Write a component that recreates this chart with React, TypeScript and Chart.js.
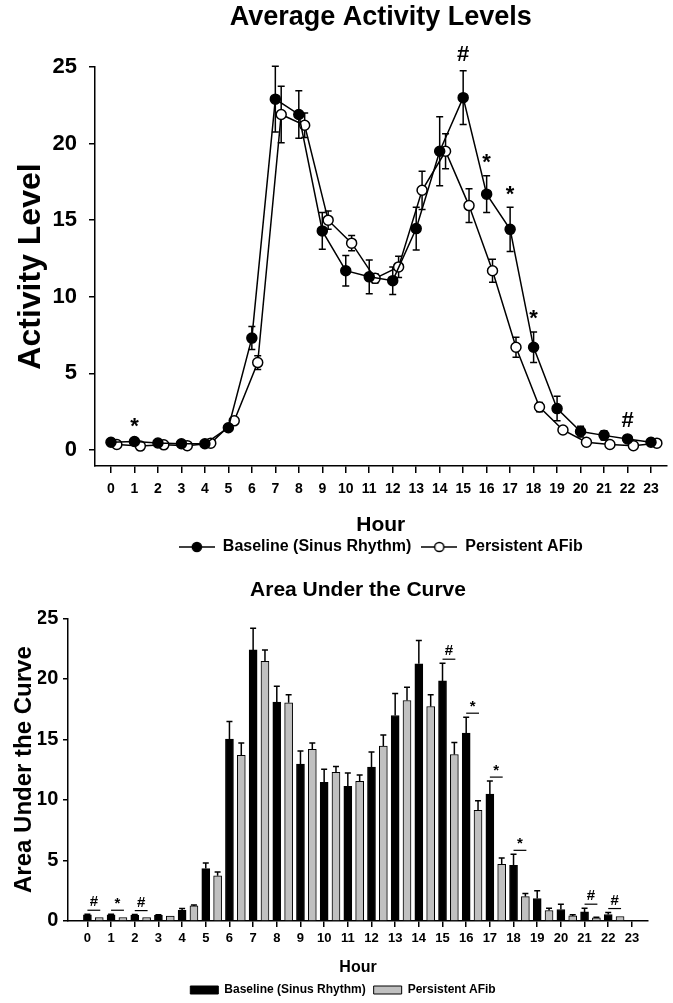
import { useEffect, useRef } from 'react';
import { Chart, registerables } from 'chart.js';

Chart.register(...registerables);

const FONT_FAMILY = '"Liberation Sans", Arial, Helvetica, sans-serif';

// ---- shared axis data ----
const hours = [0, 1, 2, 3, 4, 5, 6, 7, 8, 9, 10, 11, 12, 13, 14, 15, 16, 17, 18, 19, 20, 21, 22, 23];
const hourLabels = ['0', '1', '2', '3', '4', '5', '6', '7', '8', '9', '10', '11', '12', '13', '14', '15', '16', '17', '18', '19', '20', '21', '22', '23'];
const valueTicks = [0, 5, 10, 15, 20, 25];

// ---- hourly mean activity (± SEM) ----
const baselineActivity = [0.5, 0.55, 0.45, 0.4, 0.4, 1.45, 7.3, 22.9, 21.9, 14.3, 11.7, 11.3, 11.05, 14.45, 19.5, 23.0, 16.7, 14.4, 6.7, 2.7, 1.2, 0.95, 0.72, 0.5];
const baselineSem = [0.1, 0.1, 0.1, 0.1, 0.1, 0.15, 0.75, 2.15, 1.55, 1.2, 1.0, 1.1, 0.9, 1.4, 2.25, 1.75, 1.2, 1.45, 1.0, 0.8, 0.35, 0.3, 0.15, 0.1];
const afibActivity = [0.35, 0.25, 0.33, 0.28, 0.44, 1.9, 5.7, 21.9, 21.2, 15.0, 13.5, 11.2, 11.95, 16.95, 19.5, 15.95, 11.7, 6.7, 2.8, 1.3, 0.5, 0.35, 0.28, 0.44];
const afibSem = [0.1, 0.1, 0.1, 0.1, 0.1, 0.15, 0.45, 1.85, 0.8, 0.6, 0.5, 0.3, 0.7, 1.25, 1.15, 1.1, 0.75, 0.65, 0.3, 0.2, 0.1, 0.1, 0.1, 0.1];
const activityMarks = ['', '*', '', '', '', '', '', '', '', '', '', '', '', '', '', '#', '*', '*', '*', '', '', '', '#', ''];

// ---- hourly area under the curve (± SEM), hours 0-22 ----
const aucHours = [0, 1, 2, 3, 4, 5, 6, 7, 8, 9, 10, 11, 12, 13, 14, 15, 16, 17, 18, 19, 20, 21, 22];
const aucBaseline = [0.5, 0.5, 0.47, 0.45, 0.88, 4.32, 15.02, 22.39, 18.07, 12.96, 11.44, 11.11, 12.71, 16.97, 21.24, 19.83, 15.51, 10.48, 4.6, 1.85, 0.94, 0.74, 0.53];
const aucBaselineSem = [0.05, 0.05, 0.05, 0.05, 0.14, 0.47, 1.46, 1.79, 1.32, 1.07, 1.08, 1.1, 1.24, 1.82, 1.92, 1.46, 1.32, 1.07, 0.9, 0.65, 0.44, 0.31, 0.16];
const aucAfib = [0.28, 0.28, 0.28, 0.39, 1.24, 3.72, 13.67, 21.45, 18.02, 14.17, 12.27, 11.53, 14.44, 18.21, 17.71, 13.75, 9.13, 4.68, 2.01, 0.86, 0.41, 0.25, 0.36];
const aucAfibSem = [0.03, 0.03, 0.03, 0.04, 0.08, 0.32, 1.02, 0.94, 0.66, 0.52, 0.49, 0.52, 0.91, 1.1, 0.97, 0.99, 0.8, 0.52, 0.25, 0.19, 0.09, 0.05, 0.04];
const aucMarks = ['#', '*', '#', '', '', '', '', '', '', '', '', '', '', '', '', '#', '*', '*', '*', '', '', '#', '#'];

const seriesNames = ['Baseline (Sinus Rhythm)', 'Persistent AFib'];

// open-circle series is nudged right so the two markers do not hide each other
const AFIB_SHIFT = 0.25;
// second bar of each hour pair sits half an hour to the right
const PAIR_SHIFT = 0.5;

const bold = (size: number, lineHeight = 1.2) => ({ family: FONT_FAMILY, size, weight: 'bold' as const, lineHeight });

function drawMark(ctx: CanvasRenderingContext2D, text: string, x: number, centerY: number) {
  const m = ctx.measureText(text);
  const baseline = centerY + (m.actualBoundingBoxAscent - m.actualBoundingBoxDescent) / 2;
  ctx.fillText(text, x, baseline);
}

// legend glyph: short line with a circle marker
function lineMarkerGlyph(filled: boolean) {
  const c = document.createElement('canvas');
  c.width = 36;
  c.height = 12;
  const g = c.getContext('2d')!;
  g.strokeStyle = '#000';
  g.lineWidth = 1.5;
  g.beginPath();
  g.moveTo(0, 6);
  g.lineTo(36, 6);
  g.stroke();
  g.beginPath();
  g.arc(18, 6, 4.6, 0, Math.PI * 2);
  g.fillStyle = filled ? '#000' : '#fff';
  g.fill();
  g.stroke();
  return c;
}

const activityOverlay = {
  id: 'activityOverlay',
  beforeDatasetsDraw(chart: any) {
    const { ctx } = chart;
    const yScale = chart.scales.y;
    const series = [
      { values: baselineActivity, sem: baselineSem },
      { values: afibActivity, sem: afibSem },
    ];
    ctx.save();
    ctx.strokeStyle = '#000';
    ctx.lineWidth = 1.5;
    series.forEach((s, di) => {
      chart.getDatasetMeta(di).data.forEach((pt: any, i: number) => {
        const yTop = yScale.getPixelForValue(s.values[i] + s.sem[i]);
        const yBot = yScale.getPixelForValue(s.values[i] - s.sem[i]);
        const x = pt.x;
        ctx.beginPath();
        ctx.moveTo(x, yTop);
        ctx.lineTo(x, yBot);
        ctx.moveTo(x - 3.5, yTop);
        ctx.lineTo(x + 3.5, yTop);
        ctx.moveTo(x - 3.5, yBot);
        ctx.lineTo(x + 3.5, yBot);
        ctx.stroke();
      });
    });
    ctx.restore();
  },
  afterDatasetsDraw(chart: any) {
    const { ctx } = chart;
    const yScale = chart.scales.y;
    const meta = chart.getDatasetMeta(0);
    ctx.save();
    ctx.fillStyle = '#000';
    ctx.font = `bold 22px ${FONT_FAMILY}`;
    ctx.textAlign = 'center';
    ctx.textBaseline = 'alphabetic';
    activityMarks.forEach((mark, i) => {
      if (!mark) return;
      const top = yScale.getPixelForValue(baselineActivity[i] + baselineSem[i]);
      drawMark(ctx, mark, meta.data[i].x, top - 17);
    });
    ctx.restore();
  },
};

const aucOverlay = {
  id: 'aucOverlay',
  afterDatasetsDraw(chart: any) {
    const { ctx } = chart;
    const yScale = chart.scales.y;
    const series = [
      { values: aucBaseline, sem: aucBaselineSem },
      { values: aucAfib, sem: aucAfibSem },
    ];
    ctx.save();
    ctx.strokeStyle = '#000';
    ctx.lineWidth = 1.5;
    series.forEach((s, di) => {
      chart.getDatasetMeta(di).data.forEach((bar: any, i: number) => {
        const yErr = yScale.getPixelForValue(s.values[i] + s.sem[i]);
        const yVal = yScale.getPixelForValue(s.values[i]);
        if (yVal - yErr < 0.5) return;
        ctx.beginPath();
        ctx.moveTo(bar.x, yVal);
        ctx.lineTo(bar.x, yErr);
        ctx.moveTo(bar.x - 3, yErr);
        ctx.lineTo(bar.x + 3, yErr);
        ctx.stroke();
      });
    });

    // significance marks over the hour pairs
    const m0 = chart.getDatasetMeta(0);
    const m1 = chart.getDatasetMeta(1);
    ctx.font = `bold 15px ${FONT_FAMILY}`;
    ctx.textAlign = 'center';
    ctx.textBaseline = 'alphabetic';
    ctx.fillStyle = '#000';
    ctx.lineWidth = 1.2;
    aucMarks.forEach((mark, i) => {
      if (!mark) return;
      const top = Math.min(
        yScale.getPixelForValue(aucBaseline[i] + aucBaselineSem[i]),
        yScale.getPixelForValue(aucAfib[i] + aucAfibSem[i])
      );
      const lineY = top - 4;
      const x0 = m0.data[i].x;
      const x1 = m1.data[i].x + 1;
      ctx.beginPath();
      ctx.moveTo(x0, lineY);
      ctx.lineTo(x1, lineY);
      ctx.stroke();
      drawMark(ctx, mark, (x0 + x1) / 2, lineY - 9);
    });
    ctx.restore();
  },
};

const axisLine = { display: true, color: '#000', width: 1.5 };

function activityConfig(): any {
  const glyphs = [lineMarkerGlyph(true), lineMarkerGlyph(false)];
  return {
    type: 'line',
    data: {
      datasets: [
        {
          label: seriesNames[0],
          data: hours.map((h, i) => ({ x: h, y: baselineActivity[i] })),
          borderColor: '#000',
          borderWidth: 1.5,
          pointRadius: 5,
          pointBackgroundColor: '#000',
          pointBorderColor: '#000',
          pointBorderWidth: 1.5,
          tension: 0,
          fill: false,
        },
        {
          label: seriesNames[1],
          data: hours.map((h, i) => ({ x: h + AFIB_SHIFT, y: afibActivity[i] })),
          borderColor: '#000',
          borderWidth: 1.5,
          pointRadius: 5,
          pointBackgroundColor: '#fff',
          pointBorderColor: '#000',
          pointBorderWidth: 1.5,
          tension: 0,
          fill: false,
        },
      ],
    },
    options: {
      responsive: false,
      devicePixelRatio: 1,
      animation: false,
      events: [],
      layout: { padding: { left: 0, right: 6, top: 0, bottom: 0 } },
      scales: {
        x: {
          type: 'linear',
          min: -0.68,
          max: 23.66,
          afterBuildTicks: (s: any) => {
            s.ticks = hours.map((v) => ({ value: v }));
          },
          afterFit: (s: any) => {
            s.height = 63;
          },
          ticks: {
            color: '#000',
            font: bold(14),
            padding: 8,
            autoSkip: false,
            maxRotation: 0,
            callback: (v: number) => hourLabels[v],
          },
          grid: { drawOnChartArea: false, drawTicks: true, tickLength: 7, color: '#000', lineWidth: 1.5 },
          border: axisLine,
          title: { display: true, text: 'Hour', color: '#000', font: bold(21, 0.38), padding: 0 },
        },
        y: {
          type: 'linear',
          min: -1.05,
          max: 25,
          afterBuildTicks: (s: any) => {
            s.ticks = valueTicks.map((v) => ({ value: v }));
          },
          afterFit: (s: any) => {
            s.width = 95;
          },
          ticks: { color: '#000', font: bold(22), padding: 12 },
          grid: { drawOnChartArea: false, drawTicks: true, tickLength: 6, color: '#000', lineWidth: 1.5 },
          border: axisLine,
          title: { display: true, text: 'Activity Level', color: '#000', font: bold(32), padding: { top: 12.4, bottom: 0 } },
        },
      },
      plugins: {
        tooltip: { enabled: false },
        title: {
          display: true,
          text: 'Average Activity Levels',
          color: '#000',
          fullSize: false,
          font: bold(27),
          padding: { top: 1.8, bottom: 32.8 },
        },
        legend: {
          position: 'bottom',
          fullSize: false,
          labels: {
            color: '#000',
            font: bold(16),
            padding: 10,
            usePointStyle: true,
            pointStyleWidth: 36,
            generateLabels: (chart: any) =>
              Chart.defaults.plugins.legend.labels
                .generateLabels(chart)
                .map((item: any, i: number) => ({ ...item, pointStyle: glyphs[i] })),
          },
        },
      },
    },
    plugins: [activityOverlay],
  };
}

function aucConfig(): any {
  return {
    type: 'bar',
    data: {
      datasets: [
        {
          label: seriesNames[0],
          data: aucHours.map((h, i) => ({ x: h, y: aucBaseline[i] })),
          backgroundColor: '#000',
          borderColor: '#000',
          borderWidth: 1,
          barThickness: 8,
          grouped: false,
        },
        {
          label: seriesNames[1],
          data: aucHours.map((h, i) => ({ x: h + PAIR_SHIFT, y: aucAfib[i] })),
          backgroundColor: '#c0c0c0',
          borderColor: '#000',
          borderWidth: 1,
          barThickness: 8,
          grouped: false,
        },
      ],
    },
    options: {
      responsive: false,
      devicePixelRatio: 1,
      animation: false,
      events: [],
      // left padding keeps the full-width legend a little left of the plot centre
      layout: { padding: { left: 38, right: 25, top: 0, bottom: 0 } },
      scales: {
        x: {
          type: 'linear',
          offset: false,
          min: -0.82,
          max: 23.68,
          afterBuildTicks: (s: any) => {
            s.ticks = hours.map((v) => ({ value: v }));
          },
          afterFit: (s: any) => {
            s.height = 55.1;
          },
          ticks: {
            color: '#000',
            font: bold(13),
            padding: 3.5,
            autoSkip: false,
            maxRotation: 0,
            callback: (v: number) => hourLabels[v],
          },
          grid: { offset: false, drawOnChartArea: false, drawTicks: true, tickLength: 6, color: '#000', lineWidth: 1.5 },
          border: axisLine,
          title: { display: true, text: 'Hour', color: '#000', font: bold(16, 1.04), padding: 0 },
        },
        y: {
          type: 'linear',
          min: 0,
          max: 25,
          afterBuildTicks: (s: any) => {
            s.ticks = valueTicks.map((v) => ({ value: v }));
          },
          afterFit: (s: any) => {
            s.width = 30;
          },
          ticks: { color: '#000', font: bold(20), padding: 4.7 },
          grid: { drawOnChartArea: false, drawTicks: true, tickLength: 5, color: '#000', lineWidth: 1.5 },
          border: axisLine,
          title: { display: true, text: 'Area Under the Curve', color: '#000', font: bold(24), padding: { top: -28.4, bottom: 0 } },
        },
      },
      plugins: {
        tooltip: { enabled: false },
        title: {
          display: true,
          text: 'Area Under the Curve',
          color: '#000',
          fullSize: false,
          font: bold(21),
          padding: { top: 12.4, bottom: 15.7 },
        },
        legend: {
          position: 'bottom',
          fullSize: true,
          labels: {
            color: '#000',
            font: bold(12),
            padding: 8,
            boxWidth: 28,
            boxHeight: 8,
          },
        },
      },
    },
    plugins: [aucOverlay],
  };
}

export default function App() {
  const topRef = useRef<HTMLCanvasElement>(null);
  const bottomRef = useRef<HTMLCanvasElement>(null);

  useEffect(() => {
    const activityChart = new Chart(topRef.current!, activityConfig());
    const aucChart = new Chart(bottomRef.current!, aucConfig());
    return () => {
      activityChart.destroy();
      aucChart.destroy();
    };
  }, []);

  return (
    <div style={{ position: 'absolute', left: 0, top: 0, width: 673, height: 1003, overflow: 'hidden', background: '#fff' }}>
      <canvas ref={topRef} width={673} height={565} style={{ position: 'absolute', left: 0, top: 0 }} />
      <canvas ref={bottomRef} width={673} height={441} style={{ position: 'absolute', left: 0, top: 565 }} />
    </div>
  );
}
